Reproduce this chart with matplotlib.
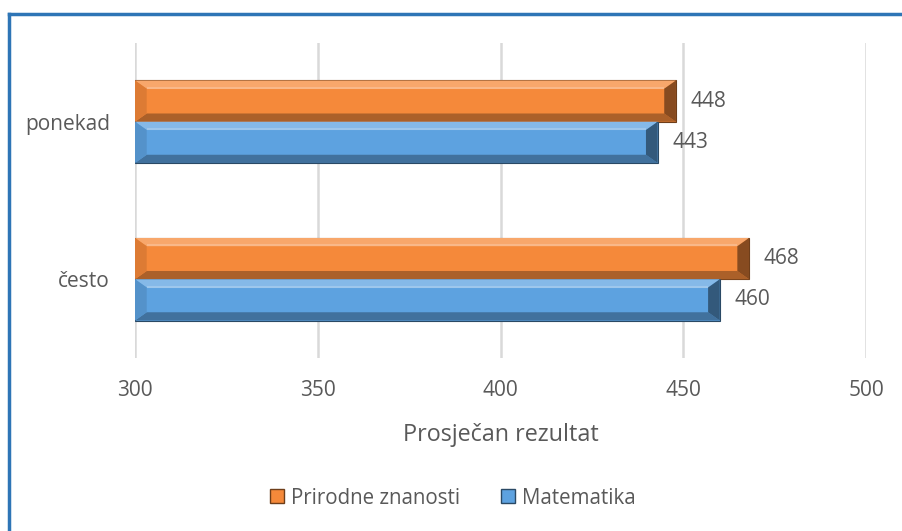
import numpy as np
import matplotlib.pyplot as plt
from matplotlib.patches import Polygon
from matplotlib.lines import Line2D

categories = ['često', 'ponekad']
priroda = [468, 448]
matematika = [460, 443]
series_names = ['Prirodne znanosti', 'Matematika']

txt = '#595959'
orange = '#F5893A'
blue = '#5DA2E0'
plt.rcParams['font.family'] = ['Open Sans', 'DejaVu Sans']

fig = plt.figure(figsize=(9.02, 5.31), dpi=100)
ax = fig.add_axes([135/902, 1-358/531, 731/902, 315/531])

y = np.arange(len(categories))
h = 0.262


def shade(c, f):
    c = np.array(plt.matplotlib.colors.to_rgb(c))
    if f > 0:
        return tuple(c + (1 - c) * f)
    return tuple(c * (1 + f))


def bevel_bar(y0, val, col):
    # flat body plus bevelled top/bottom/end faces
    ax.barh(y0, val - 300, left=300, height=h, color=col,
            edgecolor=shade(col, -0.55), linewidth=0.8, zorder=3)
    bx = 3.2
    by = h * 0.2
    top, bot = y0 + h/2, y0 - h/2
    faces = [
        ([(300, top), (val, top), (val - bx, top - by), (300 + bx, top - by)], shade(col, 0.25)),
        ([(300, bot), (val, bot), (val - bx, bot + by), (300 + bx, bot + by)], shade(col, -0.3)),
        ([(val, top), (val, bot), (val - bx, bot + by), (val - bx, top - by)], shade(col, -0.45)),
        ([(300, top), (300, bot), (300 + bx, bot + by), (300 + bx, top - by)], shade(col, -0.1)),
    ]
    for pts, fc in faces:
        ax.add_patch(Polygon(pts, closed=True, facecolor=fc, edgecolor='none', zorder=4))
    ax.plot([300 + bx, val - bx], [top - by * 0.9, top - by * 0.9],
            color=shade(col, 0.4), lw=1.5, zorder=5, solid_capstyle='butt')


for i in range(len(categories)):
    bevel_bar(y[i] + h/2, priroda[i], orange)
    bevel_bar(y[i] - h/2, matematika[i], blue)
    ax.text(priroda[i] + 4, y[i] + h/2, str(priroda[i]), va='center', ha='left',
            fontsize=15, color=txt)
    ax.text(matematika[i] + 4, y[i] - h/2, str(matematika[i]), va='center', ha='left',
            fontsize=15, color=txt)

ax.set_xlim(300, 500)
ax.set_ylim(-0.5, 1.5)
ax.set_xticks([300, 350, 400, 450, 500])
ax.set_yticks(y)
ax.set_yticklabels(categories)
ax.tick_params(axis='both', length=0, labelsize=15, labelcolor=txt)
ax.tick_params(axis='x', pad=16)
ax.tick_params(axis='y', pad=18)
ax.grid(axis='x', color='#D9D9D9', linewidth=1.8, zorder=0)
ax.set_axisbelow(True)
for s in ['top', 'right', 'bottom', 'left']:
    ax.spines[s].set_visible(False)
ax.set_xlabel('Prosječan rezultat', fontsize=16.8, color=txt, labelpad=16)

handles = [
    Line2D([], [], marker='s', linestyle='none', markersize=10,
           markerfacecolor=orange, markeredgecolor=shade(orange, -0.55)),
    Line2D([], [], marker='s', linestyle='none', markersize=10,
           markerfacecolor=blue, markeredgecolor=shade(blue, -0.55)),
]
fig.legend(handles, series_names, loc='center', bbox_to_anchor=(0.5, 1-498/531),
           ncol=2, frameon=False, fontsize=14.8, labelcolor=txt,
           handletextpad=0.2, columnspacing=1.8, handlelength=1.0)

# chart frame (left and top edges)
fig.add_artist(Line2D([9/902, 9/902], [0, 1-14/531], color='#2E75B6', lw=2.5,
                      transform=fig.transFigure))
fig.add_artist(Line2D([9/902, 1], [1-14/531, 1-14/531], color='#2E75B6', lw=2.5,
                      transform=fig.transFigure))

fig.savefig('out.png', dpi=100)
